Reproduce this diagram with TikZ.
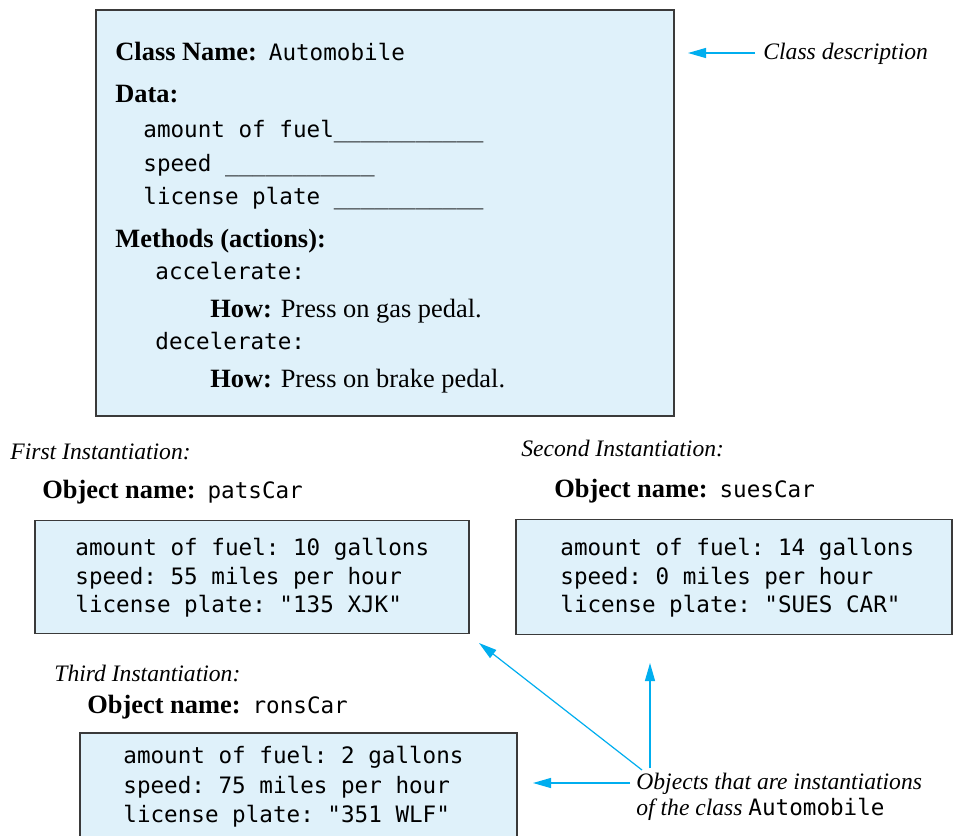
\documentclass[tikz,border=0pt]{standalone}
\usepackage{fontspec}
\setmainfont{Liberation Serif}
\setmonofont{DejaVu Sans Mono}
\usetikzlibrary{arrows.meta}
\definecolor{boxfill}{HTML}{DFF1FA}
\definecolor{arrowc}{HTML}{00AEEF}
\definecolor{edgec}{HTML}{3A3A3A}
\newcommand{\mt}[1]{{\fontsize{11.3}{14}\ttfamily\upshape #1}}
\begin{document}
\begin{tikzpicture}[x=0.5pt,y=-0.5pt,
  box/.style={draw=edgec, fill=boxfill, line width=0.7pt, inner sep=0pt},
  txt/.style={anchor=base west, inner sep=0pt, font=\fontsize{13.2}{16}\selectfont},
  mono/.style={anchor=base west, inner sep=0pt, font=\fontsize{11.3}{14}\ttfamily},
  lab/.style={anchor=base west, inner sep=0pt, font=\fontsize{11.8}{14}\selectfont\itshape},
  arr/.style={draw=arrowc, line width=0.6pt, -{Triangle[length=9pt,width=5pt]}}
]
\clip (0,0) rectangle (954,836);
\fill[white] (0,0) rectangle (954,836);

% class box
\node[box, minimum width=289pt, minimum height=203pt] (cls) at (385,213) {};
\node[txt] (cn) at (115,60) {\textbf{Class Name:}\hspace{6pt}\mt{Automobile}};
\node[txt] (data) at (115,102) {\textbf{Data:}};
\node[mono] (d1) at (143,137) {amount of fuel\_\_\_\_\_\_\_\_\_\_\_};
\node[mono] (d2) at (143,171) {speed \_\_\_\_\_\_\_\_\_\_\_};
\node[mono] (d3) at (143,204) {license plate \_\_\_\_\_\_\_\_\_\_\_};
\node[txt] (meth) at (115,247) {\textbf{Methods (actions):}};
\node[mono] (m1) at (155,279) {accelerate:};
\node[txt] (h1) at (210,317) {\textbf{How:} Press on gas pedal.};
\node[mono] (m2) at (155,349) {decelerate:};
\node[txt] (h2) at (210,387) {\textbf{How:} Press on brake pedal.};

% class description
\node[lab] (cd) at (763,59) {Class description};
\coordinate (cds) at (755,53);
\coordinate (cdt) at (688,53);
\draw[arr] (cds) -- (cdt);

% first instantiation
\node[lab] (i1) at (10,459) {First Instantiation:};
\node[txt] (o1) at (42,498) {\textbf{Object name:}\hspace{6pt}\mt{patsCar}};
\node[box, minimum width=217pt, minimum height=56.5pt] (b1) at (252,577) {};
\node[mono] (b1a) at (75,555) {amount of fuel: 10 gallons};
\node[mono] (b1b) at (75,584) {speed: 55 miles per hour};
\node[mono] (b1c) at (75,612) {license plate: "135 XJK"};

% second instantiation
\node[lab] (i2) at (521,456) {Second Instantiation:};
\node[txt] (o2) at (554,497) {\textbf{Object name:}\hspace{6pt}\mt{suesCar}};
\node[box, minimum width=218pt, minimum height=57.5pt] (b2) at (734,577) {};
\node[mono] (b2a) at (560,555) {amount of fuel: 14 gallons};
\node[mono] (b2b) at (560,584) {speed: 0 miles per hour};
\node[mono] (b2c) at (560,612) {license plate: "SUES CAR"};

% third instantiation
\node[lab] (i3) at (54,681) {Third Instantiation:};
\node[txt] (o3) at (87,713) {\textbf{Object name:}\hspace{6pt}\mt{ronsCar}};
\node[box, minimum width=218.5pt, minimum height=60pt] (b3) at (298.5,793) {};
\node[mono] (b3a) at (123,763) {amount of fuel: 2 gallons};
\node[mono] (b3b) at (123,793) {speed: 75 miles per hour};
\node[mono] (b3c) at (123,822) {license plate: "351 WLF"};

% objects label
\node[lab] (ol1) at (636,789) {Objects that are instantiations};
\node[lab] (ol2) at (636,815) {of the class \mt{Automobile}};
\coordinate (hs) at (630,783);
\coordinate (ht) at (533,783);
\coordinate (vs) at (650,768);
\coordinate (vt) at (650,663);
\coordinate (ds) at (642,770);
\coordinate (dt) at (479,643);
\draw[arr] (hs) -- (ht);
\draw[arr] (vs) -- (vt);
\draw[arr] (ds) -- (dt);
\end{tikzpicture}
\end{document}
